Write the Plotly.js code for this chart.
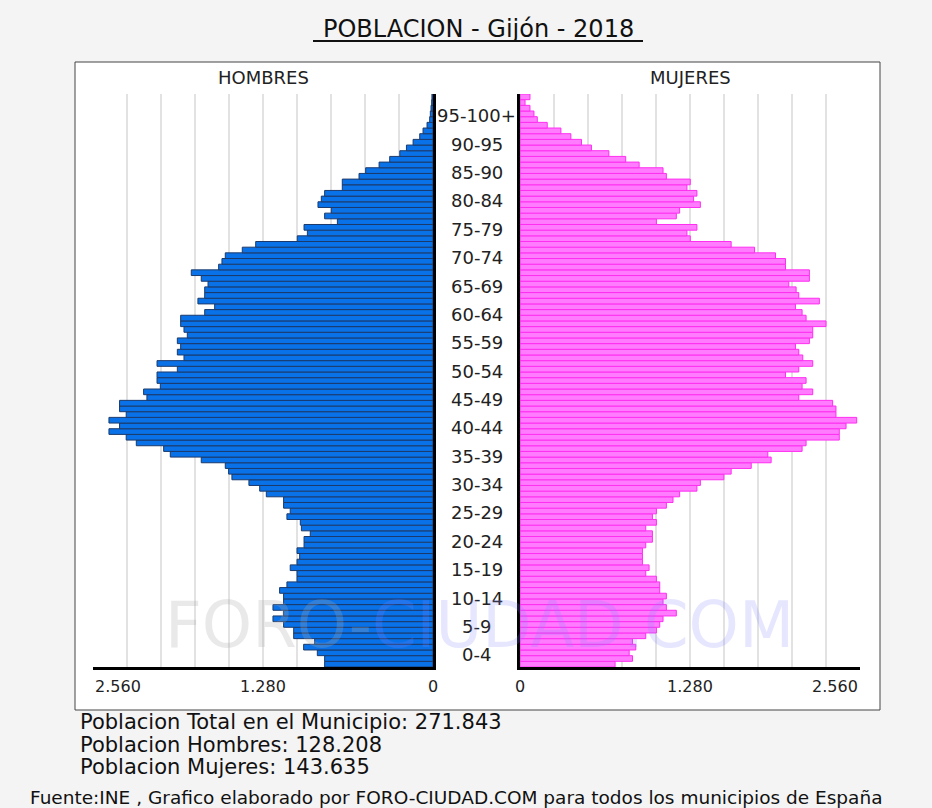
<!DOCTYPE html>
<html>
<head>
<meta charset="utf-8">
<script src="https://cdn.plot.ly/plotly-3.0.1.min.js"></script>
<style>
html,body{margin:0;padding:0;background:#f4f4f4;}
#chart{width:932px;height:808px;}
</style>
</head>
<body>
<div id="chart"></div>
<script>
// Single-year ages 0..100 (100 = 100+)
const ages = [0,1,2,3,4,5,6,7,8,9,10,11,12,13,14,15,16,17,18,19,20,21,22,23,24,25,26,27,28,29,30,31,32,33,34,35,36,37,38,39,40,41,42,43,44,45,46,47,48,49,50,51,52,53,54,55,56,57,58,59,60,61,62,63,64,65,66,67,68,69,70,71,72,73,74,75,76,77,78,79,80,81,82,83,84,85,86,87,88,89,90,91,92,93,94,95,96,97,98,99,100];

const hombres = [816,816,871,974,891,1049,1049,1125,1205,1125,
  1205,1125,1125,1155,1100,1024,1024,1075,1024,1004,
  1024,971,971,924,991,999,1100,1075,1125,1125,
  1255,1305,1386,1514,1539,1564,1745,1978,2028,2234,
  2310,2440,2360,2440,2310,2360,2360,2154,2179,2053,
  2078,2078,1925,2078,1875,1925,1900,1925,1850,1875,
  1900,1900,1719,1644,1770,1719,1719,1694,1745,1820,
  1614,1589,1564,1436,1335,1022,946,971,720,816,
  766,866,841,816,683,683,557,507,406,326,
  250,200,150,100,75,45,25,20,15,10,8];

const mujeres = [716,847,822,872,847,947,1027,1052,1077,1177,
  1102,1077,1102,1052,1052,1027,947,972,922,922,
  922,947,997,997,947,1027,997,1027,1102,1152,
  1202,1332,1358,1535,1590,1741,1891,1866,2124,2154,
  2404,2404,2455,2535,2379,2379,2354,2099,2204,2124,
  2154,1999,2099,2204,2129,2099,2074,2179,2204,2204,
  2304,2154,2124,2074,2254,2099,2079,2024,2179,2179,
  1999,1999,1924,1766,1590,1282,1257,1332,1027,1177,
  1202,1358,1307,1332,1257,1282,1102,1077,897,796,
  669,538,463,383,308,205,130,105,75,38,75];

const groupLabels = ["0-4","5-9","10-14","15-19","20-24","25-29","30-34","35-39","40-44","45-49","50-54","55-59","60-64","65-69","70-74","75-79","80-84","85-90","90-95","95-100+"];
const groupCenters = [2,7,12,17,22,27,32,37,42,47,52,57,62,67,72,77,82,87,92,97];

const gridVals = [0,256,512,768,1024,1280,1536,1792,2048,2304,2560];
const tickVals = [2560,1280,0];
const tickText = ["2.560","1.280","0"];

const titleText = "POBLACION - Gijón - 2018";
const statsLines = ["Poblacion Total en el Municipio: 271.843","Poblacion Hombres: 128.208","Poblacion Mujeres: 143.635"];
const footerText = "Fuente:INE , Grafico elaborado por FORO-CIUDAD.COM para todos los municipios de España";

const W = 932, H = 808;
const px = x => x / W;
const py = y => 1 - y / H;
const FONT = "DejaVu Sans, Verdana, sans-serif";

const traces = [
  {type:'bar', orientation:'h', y: ages, x: hombres, xaxis:'x', yaxis:'y', width:1,
   marker:{color:'#0a72e8', line:{color:'#1b3a6b', width:1}}, hoverinfo:'x+y', showlegend:false},
  {type:'bar', orientation:'h', y: ages, x: mujeres, xaxis:'x2', yaxis:'y2', width:1,
   marker:{color:'#ff7cff', line:{color:'#ff2ef0', width:1}}, hoverinfo:'x+y', showlegend:false}
];

const yTop = 94, yBot = 667;
const xAxisCommon = {
  tickmode:'array', tickvals: gridVals, ticktext: gridVals.map(()=>''),
  showgrid:true, gridcolor:'#e2e2e2', gridwidth:1.5,
  showline:true, linecolor:'#000', linewidth:3, ticks:'', zeroline:false, fixedrange:true
};
const layout = {
  width: W, height: H,
  margin:{l:0,r:0,t:0,b:0},
  paper_bgcolor:'#f4f4f4', plot_bgcolor:'rgba(0,0,0,0)',
  bargap:0, barmode:'overlay',
  font:{family:FONT, color:'#222'},
  xaxis: Object.assign({}, xAxisCommon, {domain:[px(93), px(433)], range:[2560,0], anchor:'y'}),
  xaxis2: Object.assign({}, xAxisCommon, {domain:[px(520), px(860)], range:[0,2560], anchor:'y2'}),
  yaxis: {domain:[py(yBot), py(yTop)], range:[-0.5,100.5], anchor:'x', side:'right',
          showline:true, linecolor:'#000', linewidth:3, showgrid:false, zeroline:false,
          showticklabels:false, ticks:'', fixedrange:true},
  yaxis2: {domain:[py(yBot), py(yTop)], range:[-0.5,100.5], anchor:'x2', side:'left',
          showline:true, linecolor:'#000', linewidth:3, showgrid:false, zeroline:false,
          showticklabels:false, ticks:'', fixedrange:true},
  shapes: [
    {type:'rect', xref:'paper', yref:'paper', x0:px(75), x1:px(880), y0:py(710), y1:py(62),
     fillcolor:'#ffffff', line:{color:'#444', width:1}, layer:'below'},
    {type:'line', xref:'paper', yref:'paper', x0:px(313), x1:px(643), y0:py(41), y1:py(41),
     line:{color:'#111', width:2}}
  ],
  annotations: []
};

const A = layout.annotations;
A.push({xref:'paper', yref:'paper', x:px(478), y:py(29), text:titleText, showarrow:false,
        xanchor:'center', yanchor:'middle', font:{family:FONT, size:24, color:'#111'}});
A.push({xref:'paper', yref:'paper', x:px(263), y:py(78), text:'HOMBRES', showarrow:false,
        xanchor:'center', yanchor:'middle', font:{family:FONT, size:18, color:'#222'}});
A.push({xref:'paper', yref:'paper', x:px(690), y:py(78), text:'MUJERES', showarrow:false,
        xanchor:'center', yanchor:'middle', font:{family:FONT, size:18, color:'#222'}});
groupLabels.forEach((lab, i) => {
  A.push({xref:'paper', yref:'y', x:px(476.5), y:groupCenters[i], yshift:-2, text:lab, showarrow:false,
          xanchor:'center', yanchor:'middle', font:{family:FONT, size:18, color:'#222'}});
});
tickVals.forEach((v, i) => {
  A.push({xref:'x', yref:'paper', x:v, y:py(686), text:tickText[i], showarrow:false,
          xanchor: v===2560 ? 'left' : 'center', yanchor:'middle', font:{family:FONT, size:16, color:'#222'}});
  A.push({xref:'x2', yref:'paper', x:v, y:py(686), text:tickText[i], showarrow:false,
          xanchor: v===2560 ? 'right' : 'center', yanchor:'middle', font:{family:FONT, size:16, color:'#222'}});
});
A.push({xref:'paper', yref:'paper', x:px(479), y:py(625), showarrow:false, xanchor:'center', yanchor:'middle',
        text:'<span style="color:rgba(170,170,170,0.26)">FORO-</span><span style="color:rgba(130,130,255,0.2)">CIUDAD.COM</span>',
        font:{family:FONT, size:64}});
statsLines.forEach((t, i) => {
  A.push({xref:'paper', yref:'paper', x:px(78), y:py(722 + i*22.5), text:t, showarrow:false,
          xanchor:'left', yanchor:'middle', font:{family:FONT, size:21, color:'#111'}});
});
A.push({xref:'paper', yref:'paper', x:px(456), y:py(797), text:footerText, showarrow:false,
        xanchor:'center', yanchor:'middle', font:{family:FONT, size:18.5, color:'#111'}});

Plotly.newPlot('chart', traces, layout, {displayModeBar:false, staticPlot:true});
</script>
</body>
</html>
